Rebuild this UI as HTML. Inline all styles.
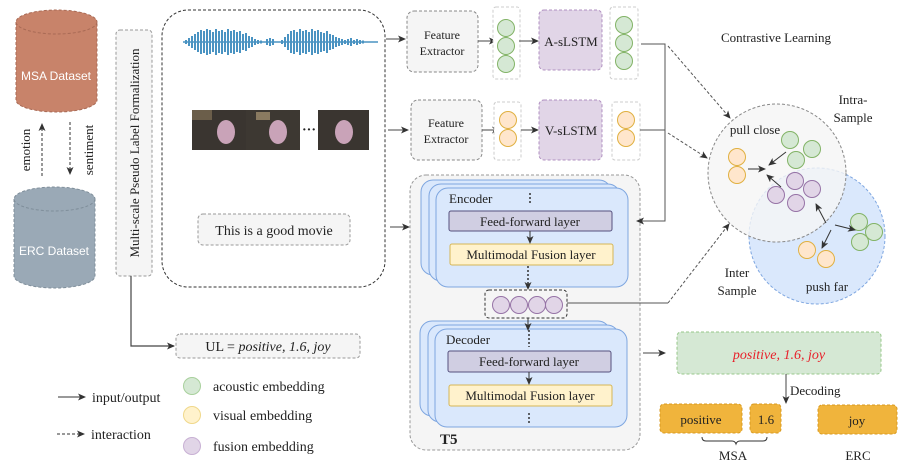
<!DOCTYPE html>
<html><head><meta charset="utf-8"><style>body{margin:0;background:#fff}svg{display:block}text{font-family:"Liberation Serif",serif;fill:#222}</style></head><body>
<svg width="902" height="470" viewBox="0 0 902 470" xmlns="http://www.w3.org/2000/svg">
<defs>
<marker id="a" markerWidth="8" markerHeight="8" refX="7" refY="4" orient="auto" markerUnits="userSpaceOnUse"><path d="M0,0.5 L8,4 L0,7.5 L2,4z" fill="#333"/></marker>
</defs>
<!-- cylinders -->
<g stroke="#a86a55" stroke-dasharray="3,2" stroke-width="1">
<path d="M16,22 v78 a40.5,12 0 0 0 81,0 v-78" fill="#c8836a"/>
<ellipse cx="56.5" cy="22" rx="40.5" ry="12" fill="#c8836a"/>
</g>
<text x="56" y="80" text-anchor="middle" style="font-family:'Liberation Sans',sans-serif;fill:#fff;font-size:12px">MSA Dataset</text>
<g stroke="#7f8e9a" stroke-dasharray="3,2">
<path d="M14,199 v77 a40.5,12 0 0 0 81,0 v-77" fill="#9aa9b6"/>
<ellipse cx="54.5" cy="199" rx="40.5" ry="12" fill="#9aa9b6"/>
</g>
<text x="54" y="255" text-anchor="middle" style="font-family:'Liberation Sans',sans-serif;fill:#fff;font-size:12px">ERC Dataset</text>
<text transform="translate(30,150) rotate(-90)" text-anchor="middle" font-size="13">emotion</text>
<text transform="translate(93,150) rotate(-90)" text-anchor="middle" font-size="13">sentiment</text>
<line x1="42" y1="176" x2="42" y2="124" stroke="#333" stroke-dasharray="3,2" marker-end="url(#a)"/>
<line x1="70" y1="122" x2="70" y2="174" stroke="#333" stroke-dasharray="3,2" marker-end="url(#a)"/>
<!-- multi-scale -->
<rect x="116" y="30" width="36" height="246" rx="4" fill="#f5f5f5" stroke="#999" stroke-dasharray="3,2"/>
<text transform="translate(139,153) rotate(-90)" text-anchor="middle" font-size="13">Multi-scale Pseudo Label Formalization</text>
<polyline points="131,276 131,346 174,346" fill="none" stroke="#444" stroke-width="1.2" marker-end="url(#a)"/>
<rect x="176" y="334" width="184" height="24" rx="4" fill="#f5f5f5" stroke="#999" stroke-dasharray="3,2"/>
<text x="268" y="351" text-anchor="middle" font-size="14">UL = <tspan font-style="italic">positive, 1.6, joy</tspan></text>
<!-- big input box -->
<rect x="162" y="10" width="223" height="277" rx="26" fill="#fff" stroke="#333" stroke-dasharray="3,2"/>
<line x1="183" y1="42" x2="378" y2="42" stroke="#4a93c2" stroke-width="1.5"/>
<path stroke="#4a93c2" stroke-width="2" fill="none" d="M186,40v4M189,38v8M192,36v12M195,34v16M198,32v20M201,30v24M204,31v22M207,29v26M210,30v24M213,32v20M216,29v26M219,31v22M222,30v24M225,32v20M228,29v26M231,31v22M234,30v24M237,32v20M240,31v22M243,34v16M246,33v18M249,36v12M252,37v10M255,39v6M258,40v4M261,40.5v3M267,39v6M270,38v8M273,39v6M282,40v4M285,37v10M288,34v16M291,31v22M294,30v24M297,32v20M300,29v26M303,31v22M306,30v24M309,32v20M312,29v26M315,31v22M318,30v24M321,32v20M324,33v18M327,31v22M330,34v16M333,35v14M336,37v10M339,38v8M342,39v6M345,40v4M348,39v6M351,38v8M354,40v4M357,39v6M360,40v4M363,40.5v3"/>
<g>
<rect x="192" y="110" width="54" height="40" fill="#3a3530"/><rect x="246" y="110" width="54" height="40" fill="#3d3832"/><rect x="318" y="110" width="51" height="40" fill="#3a3530"/>
<ellipse cx="226" cy="132" rx="9" ry="12" fill="#c9a3b8"/><ellipse cx="278" cy="132" rx="9" ry="12" fill="#c9a3b8"/><ellipse cx="344" cy="132" rx="9" ry="12" fill="#c9a3b8"/>
<rect x="192" y="110" width="20" height="10" fill="#6b5e4a"/><rect x="256" y="112" width="14" height="8" fill="#8a7a60"/>
<text x="309" y="134" text-anchor="middle" font-size="14" font-weight="bold">···</text>
</g>
<rect x="198" y="214" width="152" height="31" rx="5" fill="#f5f5f5" stroke="#999" stroke-dasharray="3,2"/>
<text x="274" y="235" text-anchor="middle" font-size="14">This is a good movie</text>
<line x1="386" y1="39" x2="405" y2="39" stroke="#444" marker-end="url(#a)"/>
<line x1="388" y1="130" x2="408" y2="130" stroke="#444" marker-end="url(#a)"/>
<line x1="390" y1="227" x2="409" y2="227" stroke="#444" marker-end="url(#a)"/>
<!-- feature extractors -->
<rect x="407" y="11" width="71" height="61" rx="7" fill="#f5f5f5" stroke="#888" stroke-dasharray="3,2"/>
<text x="442" y="39" text-anchor="middle" font-size="12">Feature</text><text x="442" y="55" text-anchor="middle" font-size="12">Extractor</text>
<rect x="411" y="100" width="71" height="60" rx="7" fill="#f5f5f5" stroke="#888" stroke-dasharray="3,2"/>
<text x="446" y="127" text-anchor="middle" font-size="12">Feature</text><text x="446" y="143" text-anchor="middle" font-size="12">Extractor</text>
<line x1="478" y1="41" x2="496" y2="41" stroke="#444" marker-end="url(#a)"/>
<line x1="482" y1="130" x2="499" y2="130" stroke="#444" marker-end="url(#a)"/>
<rect x="493" y="7" width="27" height="72" rx="3" fill="#fff" stroke="#ccc" stroke-dasharray="3,2"/>
<rect x="610" y="7" width="28" height="72" rx="3" fill="#fff" stroke="#ccc" stroke-dasharray="3,2"/>
<rect x="494" y="102" width="27" height="58" rx="3" fill="#fff" stroke="#ccc" stroke-dasharray="3,2"/>
<rect x="612" y="102" width="28" height="58" rx="3" fill="#fff" stroke="#ccc" stroke-dasharray="3,2"/>
<g fill="#d5e8d4" stroke="#82b366">
<circle cx="506" cy="28" r="8.5"/><circle cx="506" cy="46" r="8.5"/><circle cx="506" cy="64" r="8.5"/>
<circle cx="624" cy="25" r="8.5"/><circle cx="624" cy="43" r="8.5"/><circle cx="624" cy="61" r="8.5"/>
</g>
<g fill="#ffe6cc" stroke="#e0b040">
<circle cx="508" cy="120" r="8.5"/><circle cx="508" cy="138" r="8.5"/>
<circle cx="626" cy="120" r="8.5"/><circle cx="626" cy="138" r="8.5"/>
</g>
<line x1="519" y1="41" x2="538" y2="41" stroke="#444" marker-end="url(#a)"/>
<line x1="521" y1="130" x2="538" y2="130" stroke="#444" marker-end="url(#a)"/>
<rect x="539" y="10" width="63" height="60" rx="5" fill="#e1d5e7" stroke="#b090c0" stroke-dasharray="3,2"/>
<text x="571" y="46" text-anchor="middle" font-size="13">A-sLSTM</text>
<rect x="539" y="100" width="63" height="60" rx="5" fill="#e1d5e7" stroke="#b090c0" stroke-dasharray="3,2"/>
<text x="571" y="135" text-anchor="middle" font-size="13">V-sLSTM</text>
<!-- T5 -->
<rect x="410" y="175" width="230" height="275" rx="16" fill="#f5f5f5" stroke="#999" stroke-dasharray="3,2"/>
<g fill="#dae8fc" stroke="#7ea6e0">
<rect x="421" y="180" width="190" height="95" rx="12"/><rect x="429" y="184" width="191" height="97" rx="12"/><rect x="436" y="188" width="192" height="99" rx="12"/>
<rect x="420" y="321" width="190" height="95" rx="12"/><rect x="428" y="325" width="191" height="97" rx="12"/><rect x="435" y="329" width="192" height="98" rx="12"/>
</g>
<text x="449" y="203" font-size="13">Encoder</text>
<text x="446" y="344" font-size="13">Decoder</text>
<g stroke="#333" stroke-dasharray="2,2" stroke-width="1.5"><line x1="530" y1="193" x2="530" y2="205"/><line x1="529" y1="413" x2="529" y2="425"/></g>
<rect x="449" y="211" width="163" height="20" rx="2" fill="#d0cee2" stroke="#56517e"/>
<text x="530" y="226" text-anchor="middle" font-size="13">Feed-forward layer</text>
<rect x="450" y="244" width="163" height="21" rx="2" fill="#fff2cc" stroke="#d6b656"/>
<text x="531" y="259" text-anchor="middle" font-size="13">Multimodal Fusion layer</text>
<rect x="448" y="351" width="163" height="21" rx="2" fill="#d0cee2" stroke="#56517e"/>
<text x="529" y="366" text-anchor="middle" font-size="13">Feed-forward layer</text>
<rect x="449" y="385" width="163" height="21" rx="2" fill="#fff2cc" stroke="#d6b656"/>
<text x="530" y="400" text-anchor="middle" font-size="13">Multimodal Fusion layer</text>
<line x1="530" y1="231" x2="530" y2="243" stroke="#333" marker-end="url(#a)"/>
<line x1="529" y1="372" x2="529" y2="384" stroke="#333" marker-end="url(#a)"/>
<line x1="528" y1="266" x2="528" y2="289" stroke="#333" stroke-dasharray="2,2" stroke-width="1.5" marker-end="url(#a)"/>
<line x1="528" y1="318" x2="528" y2="330" stroke="#333" marker-end="url(#a)"/>
<line x1="529" y1="330" x2="529" y2="347" stroke="#333" stroke-dasharray="2,2" stroke-width="1.5"/>
<rect x="485" y="290" width="82" height="28" rx="4" fill="#f5f5f5" stroke="#333" stroke-dasharray="3,2"/>
<g fill="#e1d5e7" stroke="#9673a6"><circle cx="501" cy="305" r="8.5"/><circle cx="519" cy="305" r="8.5"/><circle cx="537" cy="305" r="8.5"/><circle cx="554" cy="305" r="8.5"/></g>
<text x="440" y="444" font-size="15" font-weight="bold">T5</text>
<!-- connectors -->
<polyline points="641,44 665,44 665,221 637,221" fill="none" stroke="#555" marker-end="url(#a)"/>
<line x1="640" y1="130" x2="665" y2="130" stroke="#555"/>
<polyline points="567,303 668,303" fill="none" stroke="#555"/>
<line x1="668" y1="46" x2="730" y2="118" stroke="#555" stroke-dasharray="3,2" marker-end="url(#a)"/>
<line x1="668" y1="133" x2="707" y2="158" stroke="#555" stroke-dasharray="3,2" marker-end="url(#a)"/>
<line x1="668" y1="303" x2="729" y2="224" stroke="#555" stroke-dasharray="3,2" marker-end="url(#a)"/>
<line x1="643" y1="353" x2="665" y2="353" stroke="#444" marker-end="url(#a)"/>
<!-- contrastive -->
<text x="776" y="42" text-anchor="middle" font-size="13">Contrastive Learning</text>
<circle cx="817" cy="236" r="68" fill="#dae8fc" stroke="#7ea6e0" stroke-dasharray="3,2"/>
<circle cx="777" cy="173" r="69" fill="#f5f5f5" fill-opacity="0.8" stroke="#888" stroke-dasharray="3,2"/>
<text x="853" y="104" text-anchor="middle" font-size="13">Intra-</text><text x="853" y="122" text-anchor="middle" font-size="13">Sample</text>
<text x="755" y="134" text-anchor="middle" font-size="13">pull close</text>
<text x="737" y="277" text-anchor="middle" font-size="13">Inter</text><text x="737" y="295" text-anchor="middle" font-size="13">Sample</text>
<text x="827" y="291" text-anchor="middle" font-size="13">push far</text>
<g fill="#ffe6cc" stroke="#e0b040"><circle cx="737" cy="157" r="8.5"/><circle cx="737" cy="175" r="8.5"/><circle cx="807" cy="250" r="8.5"/><circle cx="826" cy="259" r="8.5"/></g>
<g fill="#d5e8d4" stroke="#82b366"><circle cx="790" cy="140" r="8.5"/><circle cx="812" cy="149" r="8.5"/><circle cx="796" cy="160" r="8.5"/><circle cx="859" cy="222" r="8.5"/><circle cx="874" cy="232" r="8.5"/><circle cx="860" cy="242" r="8.5"/></g>
<g fill="#e1d5e7" stroke="#9673a6"><circle cx="795" cy="181" r="8.5"/><circle cx="812" cy="189" r="8.5"/><circle cx="776" cy="195" r="8.5"/><circle cx="796" cy="203" r="8.5"/></g>
<g stroke="#333" marker-end="url(#a)"><line x1="786" y1="152" x2="769" y2="165"/><line x1="748" y1="169" x2="765" y2="169"/><line x1="781" y1="187" x2="767" y2="175"/><line x1="826" y1="223" x2="816" y2="204"/><line x1="835" y1="225" x2="855" y2="230"/><line x1="831" y1="230" x2="822" y2="248"/></g>
<!-- output -->
<rect x="677" y="332" width="204" height="42" rx="4" fill="#d5e8d4" stroke="#97c78a" stroke-dasharray="3,2"/>
<text x="779" y="359" text-anchor="middle" font-size="14" font-style="italic" style="fill:#e8202a">positive, 1.6, joy</text>
<line x1="786" y1="374" x2="786" y2="403" stroke="#444" marker-end="url(#a)"/>
<text x="790" y="395" font-size="13">Decoding</text>
<g fill="#f0b43c" stroke="#d89a20" stroke-dasharray="3,2"><rect x="660" y="404" width="82" height="29" rx="4"/><rect x="750" y="404" width="31" height="29" rx="4"/><rect x="818" y="405" width="79" height="29" rx="4"/></g>
<text x="701" y="424" text-anchor="middle" font-size="13">positive</text>
<text x="766" y="424" text-anchor="middle" font-size="13">1.6</text>
<text x="857" y="425" text-anchor="middle" font-size="13">joy</text>
<path d="M702,437 q0,4 4,4 h26 q3,0 4,3 q1,-3 4,-3 h23 q4,0 4,-4" fill="none" stroke="#333"/>
<text x="733" y="460" text-anchor="middle" font-size="13">MSA</text>
<text x="858" y="460" text-anchor="middle" font-size="13">ERC</text>
<!-- legend -->
<line x1="58" y1="397" x2="85" y2="397" stroke="#333" marker-end="url(#a)"/>
<text x="92" y="402" font-size="14">input/output</text>
<line x1="57" y1="434" x2="84" y2="434" stroke="#333" stroke-dasharray="3,2" marker-end="url(#a)"/>
<text x="91" y="439" font-size="14">interaction</text>
<circle cx="192" cy="386" r="8.5" fill="#d5e8d4" stroke="#a8d09c"/>
<circle cx="192" cy="415" r="8.5" fill="#fff2cc" stroke="#f0d88a"/>
<circle cx="192" cy="446" r="8.5" fill="#e1d5e7" stroke="#c8b0d4"/>
<text x="213" y="391" font-size="14">acoustic embedding</text>
<text x="213" y="420" font-size="14">visual embedding</text>
<text x="213" y="451" font-size="14">fusion embedding</text>
</svg>
</body></html>
